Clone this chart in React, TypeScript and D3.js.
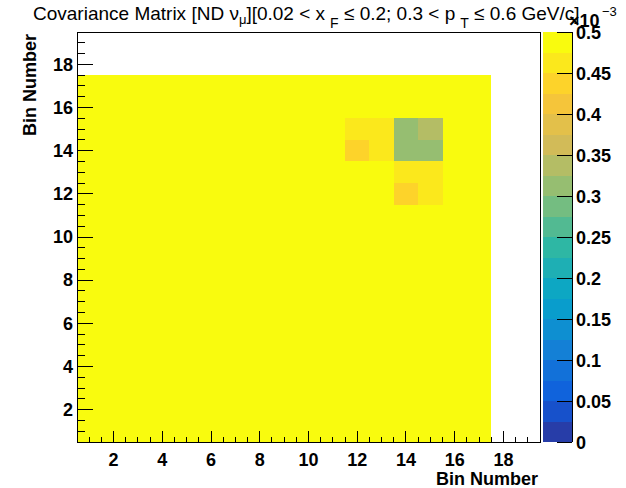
import React, { useEffect } from 'react';
import * as d3 from 'd3';

const W = 626;
const H = 488;
const FRAME = { left: 77, right: 540, top: 32, bottom: 442 };
const PAL = { left: 543, right: 572 };

const AXIS_DOMAIN = [0.5, 19.5];
const xMajorTicks = [2, 4, 6, 8, 10, 12, 14, 16, 18];
const yMajorTicks = [2, 4, 6, 8, 10, 12, 14, 16, 18];
const zTicks = [0, 0.05, 0.1, 0.15, 0.2, 0.25, 0.3, 0.35, 0.4, 0.45, 0.5];
const zTickLabels = ['0', '0.05', '0.1', '0.15', '0.2', '0.25', '0.3', '0.35', '0.4', '0.45', '0.5'];
const Z_MAX = 0.5;
const N_CONTOURS = 20;

// covariance in units of 1e-3, row 0 = y bin 1, column 0 = x bin 1
const covRows = [
    [0.5, 0.5, 0.5, 0.5, 0.5, 0.5, 0.5, 0.5, 0.5, 0.5, 0.5, 0.5, 0.5, 0.5, 0.5, 0.5, 0.5],
    [0.5, 0.5, 0.5, 0.5, 0.5, 0.5, 0.5, 0.5, 0.5, 0.5, 0.5, 0.5, 0.5, 0.5, 0.5, 0.5, 0.5],
    [0.5, 0.5, 0.5, 0.5, 0.5, 0.5, 0.5, 0.5, 0.5, 0.5, 0.5, 0.5, 0.5, 0.5, 0.5, 0.5, 0.5],
    [0.5, 0.5, 0.5, 0.5, 0.5, 0.5, 0.5, 0.5, 0.5, 0.5, 0.5, 0.5, 0.5, 0.5, 0.5, 0.5, 0.5],
    [0.5, 0.5, 0.5, 0.5, 0.5, 0.5, 0.5, 0.5, 0.5, 0.5, 0.5, 0.5, 0.5, 0.5, 0.5, 0.5, 0.5],
    [0.5, 0.5, 0.5, 0.5, 0.5, 0.5, 0.5, 0.5, 0.5, 0.5, 0.5, 0.5, 0.5, 0.5, 0.5, 0.5, 0.5],
    [0.5, 0.5, 0.5, 0.5, 0.5, 0.5, 0.5, 0.5, 0.5, 0.5, 0.5, 0.5, 0.5, 0.5, 0.5, 0.5, 0.5],
    [0.5, 0.5, 0.5, 0.5, 0.5, 0.5, 0.5, 0.5, 0.5, 0.5, 0.5, 0.5, 0.5, 0.5, 0.5, 0.5, 0.5],
    [0.5, 0.5, 0.5, 0.5, 0.5, 0.5, 0.5, 0.5, 0.5, 0.5, 0.5, 0.5, 0.5, 0.5, 0.5, 0.5, 0.5],
    [0.5, 0.5, 0.5, 0.5, 0.5, 0.5, 0.5, 0.5, 0.5, 0.5, 0.5, 0.5, 0.5, 0.5, 0.5, 0.5, 0.5],
    [0.5, 0.5, 0.5, 0.5, 0.5, 0.5, 0.5, 0.5, 0.5, 0.5, 0.5, 0.5, 0.5, 0.5, 0.5, 0.5, 0.5],
    [0.5, 0.5, 0.5, 0.5, 0.5, 0.5, 0.5, 0.5, 0.5, 0.5, 0.5, 0.5, 0.5, 0.44, 0.46, 0.5, 0.5],
    [0.5, 0.5, 0.5, 0.5, 0.5, 0.5, 0.5, 0.5, 0.5, 0.5, 0.5, 0.5, 0.5, 0.46, 0.46, 0.5, 0.5],
    [0.5, 0.5, 0.5, 0.5, 0.5, 0.5, 0.5, 0.5, 0.5, 0.5, 0.5, 0.44, 0.46, 0.31, 0.31, 0.5, 0.5],
    [0.5, 0.5, 0.5, 0.5, 0.5, 0.5, 0.5, 0.5, 0.5, 0.5, 0.5, 0.46, 0.46, 0.31, 0.34, 0.5, 0.5],
    [0.5, 0.5, 0.5, 0.5, 0.5, 0.5, 0.5, 0.5, 0.5, 0.5, 0.5, 0.5, 0.5, 0.5, 0.5, 0.5, 0.5],
    [0.5, 0.5, 0.5, 0.5, 0.5, 0.5, 0.5, 0.5, 0.5, 0.5, 0.5, 0.5, 0.5, 0.5, 0.5, 0.5, 0.5]
];

// ROOT kBird palette
const birdStops = [0.0, 0.125, 0.25, 0.375, 0.5, 0.625, 0.75, 0.875, 1.0];
const birdR = [0.2082, 0.0592, 0.078, 0.0232, 0.1802, 0.5301, 0.8186, 0.9956, 0.9764];
const birdG = [0.1664, 0.3599, 0.5041, 0.6419, 0.7178, 0.7492, 0.7328, 0.7862, 0.9832];
const birdB = [0.5293, 0.8684, 0.8385, 0.7914, 0.6425, 0.4662, 0.3499, 0.1968, 0.0539];

const bird = d3.scaleLinear<string>()
    .domain(birdStops)
    .range(birdStops.map((_, i) => d3.rgb(birdR[i] * 255, birdG[i] * 255, birdB[i] * 255).toString()))
    .interpolate(d3.interpolateRgb);

function bandColor(i: number) {
    return bird(Math.floor((i + 0.99) * 255 / N_CONTOURS) / 254);
}

function cellColor(v: number) {
    const i = Math.max(0, Math.min(N_CONTOURS - 1, Math.floor(v / Z_MAX * N_CONTOURS + 1e-9)));
    return bandColor(i);
}

const FONT = '"Liberation Sans", Arial, Helvetica, sans-serif';

export default function App() {
    useEffect(() => {
        document.body.style.margin = '0';
    }, []);

    const x = d3.scaleLinear().domain(AXIS_DOMAIN).range([FRAME.left, FRAME.right]);
    const y = d3.scaleLinear().domain(AXIS_DOMAIN).range([FRAME.bottom, FRAME.top]);
    const z = d3.scaleLinear().domain([0, Z_MAX]).range([FRAME.bottom, FRAME.top]);

    const minorTicks = d3.range(1, 19.01, 0.5).filter(t => t % 2 !== 0);
    const bands = d3.range(N_CONTOURS);

    const cells: { bx: number; by: number; v: number }[] = [];
    covRows.forEach((row, j) => row.forEach((v, i) => cells.push({ bx: i + 1, by: j + 1, v })));

    return (
        <svg width={W} height={H} style={{ display: 'block', background: '#fff' }} fontFamily={FONT}>
            <rect x={0} y={0} width={W} height={H} fill="#fff" />

            {/* cells */}
            {cells.map(c => (
                <rect key={c.bx + '-' + c.by}
                    x={x(c.bx - 0.5)} y={y(c.by + 0.5)}
                    width={x(c.bx + 0.5) - x(c.bx - 0.5)} height={y(c.by - 0.5) - y(c.by + 0.5)}
                    fill={cellColor(c.v)} shapeRendering="crispEdges" />
            ))}

            {/* frame */}
            <rect x={FRAME.left} y={FRAME.top} width={FRAME.right - FRAME.left} height={FRAME.bottom - FRAME.top}
                fill="none" stroke="#000" strokeWidth={1} shapeRendering="crispEdges" />

            {/* ticks */}
            <g stroke="#000" shapeRendering="crispEdges">
                {xMajorTicks.map(t => <line key={'xM' + t} x1={x(t)} x2={x(t)} y1={FRAME.bottom} y2={FRAME.bottom - 11} />)}
                {minorTicks.map(t => <line key={'xm' + t} x1={x(t)} x2={x(t)} y1={FRAME.bottom} y2={FRAME.bottom - 5.5} />)}
                {yMajorTicks.map(t => <line key={'yM' + t} x1={FRAME.left} x2={FRAME.left + 16} y1={y(t)} y2={y(t)} />)}
                {minorTicks.map(t => <line key={'ym' + t} x1={FRAME.left} x2={FRAME.left + 8} y1={y(t)} y2={y(t)} />)}
            </g>

            <g fontSize={18} fontWeight="bold" fill="#000">
                {xMajorTicks.map(t => <text key={'xl' + t} x={x(t)} y={466} textAnchor="middle">{t}</text>)}
                {yMajorTicks.map(t => <text key={'yl' + t} x={73} y={y(t)} dy="0.35em" textAnchor="end">{t}</text>)}
                <text x={538} y={485} textAnchor="end">Bin Number</text>
                <text transform={`translate(36,${FRAME.top + 2}) rotate(-90)`} textAnchor="end">Bin Number</text>
            </g>

            {/* palette */}
            {bands.map(i => (
                <rect key={'b' + i} x={PAL.left} width={PAL.right - PAL.left}
                    y={z((i + 1) * Z_MAX / N_CONTOURS)} height={z(i * Z_MAX / N_CONTOURS) - z((i + 1) * Z_MAX / N_CONTOURS)}
                    fill={bandColor(i)} shapeRendering="crispEdges" />
            ))}
            <line x1={PAL.right} x2={PAL.right} y1={FRAME.top} y2={FRAME.bottom} stroke="#000" shapeRendering="crispEdges" />
            <g stroke="#000" shapeRendering="crispEdges">
                {zTicks.map(t => <line key={'zt' + t} x1={PAL.right - 15} x2={PAL.right} y1={z(t)} y2={z(t)} />)}
            </g>
            <g fontSize={18} fontWeight="bold" fill="#000">
                {zTicks.map((t, i) => <text key={'zl' + t} x={576} y={z(t)} dy="0.38em">{zTickLabels[i]}</text>)}
                <text x={569} y={27}>×10</text>
            </g>
            <text x={602} y={16} fontSize={13} fill="#000">−3</text>

            {/* title */}
            <text x={33} y={20} fontSize={19} fill="#000">
                Covariance Matrix [ND ν<tspan fontSize={13} dy={4}>μ</tspan>
                <tspan dy={-4}>][0.02 &lt; x</tspan>
                <tspan fontSize={14} dx={5} dy={8}>F</tspan>
                <tspan dy={-8}> ≤ 0.2; 0.3 &lt; p</tspan>
                <tspan fontSize={14} dx={5} dy={8}>T</tspan>
                <tspan dy={-8}> ≤ 0.6 GeV/c]</tspan>
            </text>
        </svg>
    );
}
